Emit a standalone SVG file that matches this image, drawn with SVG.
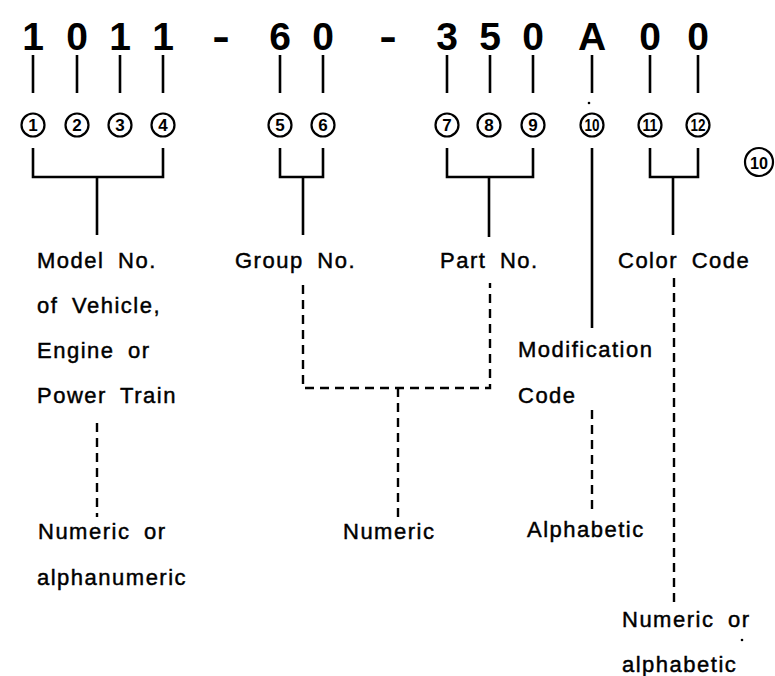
<svg xmlns="http://www.w3.org/2000/svg" width="775" height="676" viewBox="0 0 775 676">
<style>
.dig{font-family:"Liberation Sans",Arial,sans-serif;font-weight:bold;font-size:39px;fill:#000;text-anchor:middle}
.cn{font-family:"Liberation Sans",Arial,sans-serif;font-weight:bold;font-size:17px;fill:#000;text-anchor:middle}
.cc{fill:#fff;stroke:#000;stroke-width:2.2}
.lbl{font-family:"Liberation Sans",Arial,sans-serif;font-size:22px;fill:#000;stroke:#000;stroke-width:0.45;letter-spacing:1.5px;word-spacing:6px}
.s{stroke:#000;stroke-width:2.6;fill:none}
.d{stroke:#000;stroke-width:2.4;fill:none;stroke-dasharray:9 6}
</style>
<rect width="775" height="676" fill="#fff"/>
<g id="code">
<text class="dig" x="33" y="50">1</text>
<text class="dig" x="77" y="50">0</text>
<text class="dig" x="120" y="50">1</text>
<text class="dig" x="163" y="50">1</text>
<text class="dig" transform="translate(221 50) scale(1.35 1)" x="0" y="0">-</text>
<text class="dig" x="280" y="50">6</text>
<text class="dig" x="323" y="50">0</text>
<text class="dig" transform="translate(388 50) scale(1.35 1)" x="0" y="0">-</text>
<text class="dig" x="447" y="50">3</text>
<text class="dig" x="490" y="50">5</text>
<text class="dig" x="533" y="50">0</text>
<text class="dig" x="592" y="50">A</text>
<text class="dig" x="650" y="50">0</text>
<text class="dig" x="698" y="50">0</text>
</g>
<g id="circles">
<g id="c1"><circle class="cc" cx="33" cy="125" r="11.5"/><text class="cn" x="33" y="131">1</text></g>
<g id="c2"><circle class="cc" cx="77" cy="125" r="11.5"/><text class="cn" x="77" y="131">2</text></g>
<g id="c3"><circle class="cc" cx="120" cy="125" r="11.5"/><text class="cn" x="120" y="131">3</text></g>
<g id="c4"><circle class="cc" cx="163" cy="125" r="11.5"/><text class="cn" x="163" y="131">4</text></g>
<g id="c5"><circle class="cc" cx="280" cy="125" r="11.5"/><text class="cn" x="280" y="131">5</text></g>
<g id="c6"><circle class="cc" cx="323" cy="125" r="11.5"/><text class="cn" x="323" y="131">6</text></g>
<g id="c7"><circle class="cc" cx="447" cy="125" r="11.5"/><text class="cn" x="447" y="131">7</text></g>
<g id="c8"><circle class="cc" cx="489" cy="125" r="11.5"/><text class="cn" x="489" y="131">8</text></g>
<g id="c9"><circle class="cc" cx="533" cy="125" r="11.5"/><text class="cn" x="533" y="131">9</text></g>
<g id="c10"><circle class="cc" cx="592" cy="125" r="11.5"/><text class="cn" x="592" y="131" textLength="15" lengthAdjust="spacingAndGlyphs">10</text><circle cx="589" cy="103" r="1.3" fill="#000"/></g>
<g id="c11"><circle class="cc" cx="650" cy="125" r="11.5"/><text class="cn" x="650" y="131" textLength="15" lengthAdjust="spacingAndGlyphs">11</text></g>
<g id="c12"><circle class="cc" cx="698" cy="125" r="11.5"/><text class="cn" x="698" y="131" textLength="15" lengthAdjust="spacingAndGlyphs">12</text></g>
<g id="c10b"><circle class="cc" cx="759" cy="162" r="14"/><text class="cn" x="759" y="168.5" font-size="19" textLength="18" lengthAdjust="spacingAndGlyphs">10</text></g>
</g>
<g id="connectors">
<path class="s" d="M33 55V93M77 55V93M120 55V93M163 55V93M280 55V93M323 55V93M447 55V93M490 55V93M533 55V93M592 55V93M650 55V93M698 55V93"/>
<path class="s" d="M33 148V177H163V148M97 177V235"/>
<path class="s" d="M280 148V177H323V148M303 177V235"/>
<path class="s" d="M447 148V177H533V148M489 177V237"/>
<path class="s" d="M592 148V328"/>
<path class="s" d="M650 148V177H698V148M673 177V235"/>
<path class="d" d="M97 423V517"/>
<path class="d" d="M303 285V388H490V283"/>
<path class="d" d="M398 388V518"/>
<path class="d" d="M592 410V512"/>
<path class="d" d="M674 278V602"/>
</g>
<g id="labels">
<g id="model"><text class="lbl" x="37" y="268">Model No.</text><text class="lbl" x="37" y="313">of Vehicle,</text><text class="lbl" x="37" y="358">Engine or</text><text class="lbl" x="37" y="403">Power Train</text></g>
<g id="group"><text class="lbl" x="235" y="268">Group No.</text></g>
<g id="part"><text class="lbl" x="440" y="268">Part No.</text></g>
<g id="color"><text class="lbl" x="618" y="268">Color Code</text></g>
<g id="mod"><text class="lbl" x="518" y="357">Modification</text><text class="lbl" x="518" y="403">Code</text></g>
<g id="numor"><text class="lbl" x="38" y="539">Numeric or</text><text class="lbl" x="37" y="585">alphanumeric</text></g>
<g id="num"><text class="lbl" x="343" y="539">Numeric</text></g>
<g id="alpha"><text class="lbl" x="527" y="537">Alphabetic</text></g>
<g id="numalpha"><text class="lbl" x="622" y="627">Numeric or</text><text class="lbl" x="622" y="672">alphabetic</text><circle cx="742" cy="640" r="1.3" fill="#000"/></g>
</g>
</svg>
